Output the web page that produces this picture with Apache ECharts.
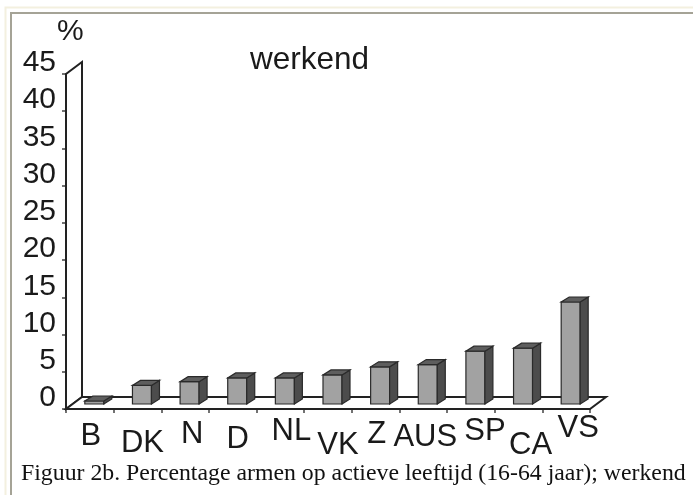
<!DOCTYPE html>
<html><head><meta charset="utf-8">
<script src="https://cdn.jsdelivr.net/npm/echarts@6/dist/echarts.min.js"></script>
<style>html,body{margin:0;padding:0;background:#fff}#c{width:693px;height:495px}</style>
</head><body><div id="c"></div>
<script>
var categories=['B','DK','N','D','NL','VK','Z','AUS','SP','CA','VS'];
var values=[0.4,2.5,3.0,3.5,3.5,3.9,5.0,5.3,7.1,7.5,13.7];
var yTicks=[0,5,10,15,20,25,30,35,40,45];
var labelDx=[1,5,7,5,11,10,1,2,14,12,12];
var labelDy=[5,12,3,8,0,14,3,6,0,14,-3];
var depthX=16, depthY=12, barW=19, barOffset=-4.5;
var chart=echarts.init(document.getElementById('c'),null,{renderer:'canvas'});
function wallFloor(params,api){
  var o=api.coord([0,0]), t=api.coord([0,45]);
  var x0=params.coordSys.x, x1=x0+params.coordSys.width, y0=o[1], yT=t[1];
  function poly(p,fill,lw){return {type:'polygon',shape:{points:p},style:{fill:fill,stroke:'#222',lineWidth:lw}};}
  return {type:'group',children:[
    poly([[x0,y0],[x0+depthX,y0-depthY],[x0+depthX,yT-depthY],[x0,yT]],'#fff',2),
    poly([[x0,y0],[x0+depthX,y0-depthY],[x1+depthX,y0-depthY],[x1,y0]],'#fff',2)
  ]};
}
function bar(params,api){
  var i=api.value(0), c=api.coord([i,api.value(1)]), b=api.coord([i,0]);
  var dx=8,dy=5, l=c[0]-barW/2-barOffset, r=l+barW, base=b[1]-5, top=base-(b[1]-c[1]);
  function poly(p,fill){return {type:'polygon',shape:{points:p},style:{fill:fill,stroke:'#2a2a2a',lineWidth:1.2}};}
  return {type:'group',children:[
    poly([[l,base],[r,base],[r,top],[l,top]],'#a2a2a2'),
    poly([[r,base],[r+dx,base-dy],[r+dx,top-dy],[r,top]],'#4c4c4c'),
    poly([[l,top],[r,top],[r+dx,top-dy],[l+dx,top-dy]],'#5e5e5e')
  ]};
}
chart.setOption({
  animation:false,
  backgroundColor:'#fff',
  grid:{left:66,right:103,top:74,bottom:86,containLabel:false},
  xAxis:{type:'category',
    data:categories.map(function(n,i){return {value:n,textStyle:{padding:[labelDy[i],0,0,labelDx[i]*2]}};}),
    axisLine:{show:false},axisTick:{show:true,alignWithLabel:false,length:4,lineStyle:{color:'#444',width:1.5}},
    axisLabel:{interval:0,margin:7,fontFamily:'Liberation Sans',fontSize:31,color:'#1a1a1a',verticalAlign:'top'},
    splitLine:{show:false}},
  yAxis:{type:'value',min:0,max:45,interval:5,
    axisLine:{show:false},axisTick:{show:true,length:4,lineStyle:{color:'#444',width:1.5}},
    axisLabel:{margin:10,fontFamily:'Liberation Sans',fontSize:30,color:'#1a1a1a',verticalAlign:'bottom',lineHeight:22,
      formatter:function(v){return yTicks.indexOf(v)>=0?String(v):'';}},
    splitLine:{show:false}},
  series:[
    {type:'custom',renderItem:wallFloor,data:[[0,0]],encode:{x:0,y:1},silent:true,z:1},
    {type:'custom',renderItem:bar,data:values.map(function(v,i){return [i,v];}),encode:{x:0,y:1},z:2}
  ],
  graphic:[
    {type:'rect',z:-10,silent:true,shape:{x:5.5,y:7.5,width:700,height:500},style:{fill:'#fff',stroke:'#f3f0df',lineWidth:2}},
    {type:'rect',z:-9,silent:true,shape:{x:11,y:13,width:700,height:500},style:{fill:'#fff',stroke:'#a5a396',lineWidth:2}},
    {type:'text',left:57,top:17,style:{text:'%',font:'30px "Liberation Sans"',fill:'#1a1a1a'}},
    {type:'text',left:250,top:44,style:{text:'werkend',font:'31.5px "Liberation Sans"',fill:'#1a1a1a'}},
    {type:'text',left:21,top:462,style:{text:'Figuur 2b. Percentage armen op actieve leeftijd (16-64 jaar); werkend',font:'23.8px "Liberation Serif"',fill:'#111'}}
  ]
});
</script></body></html>
